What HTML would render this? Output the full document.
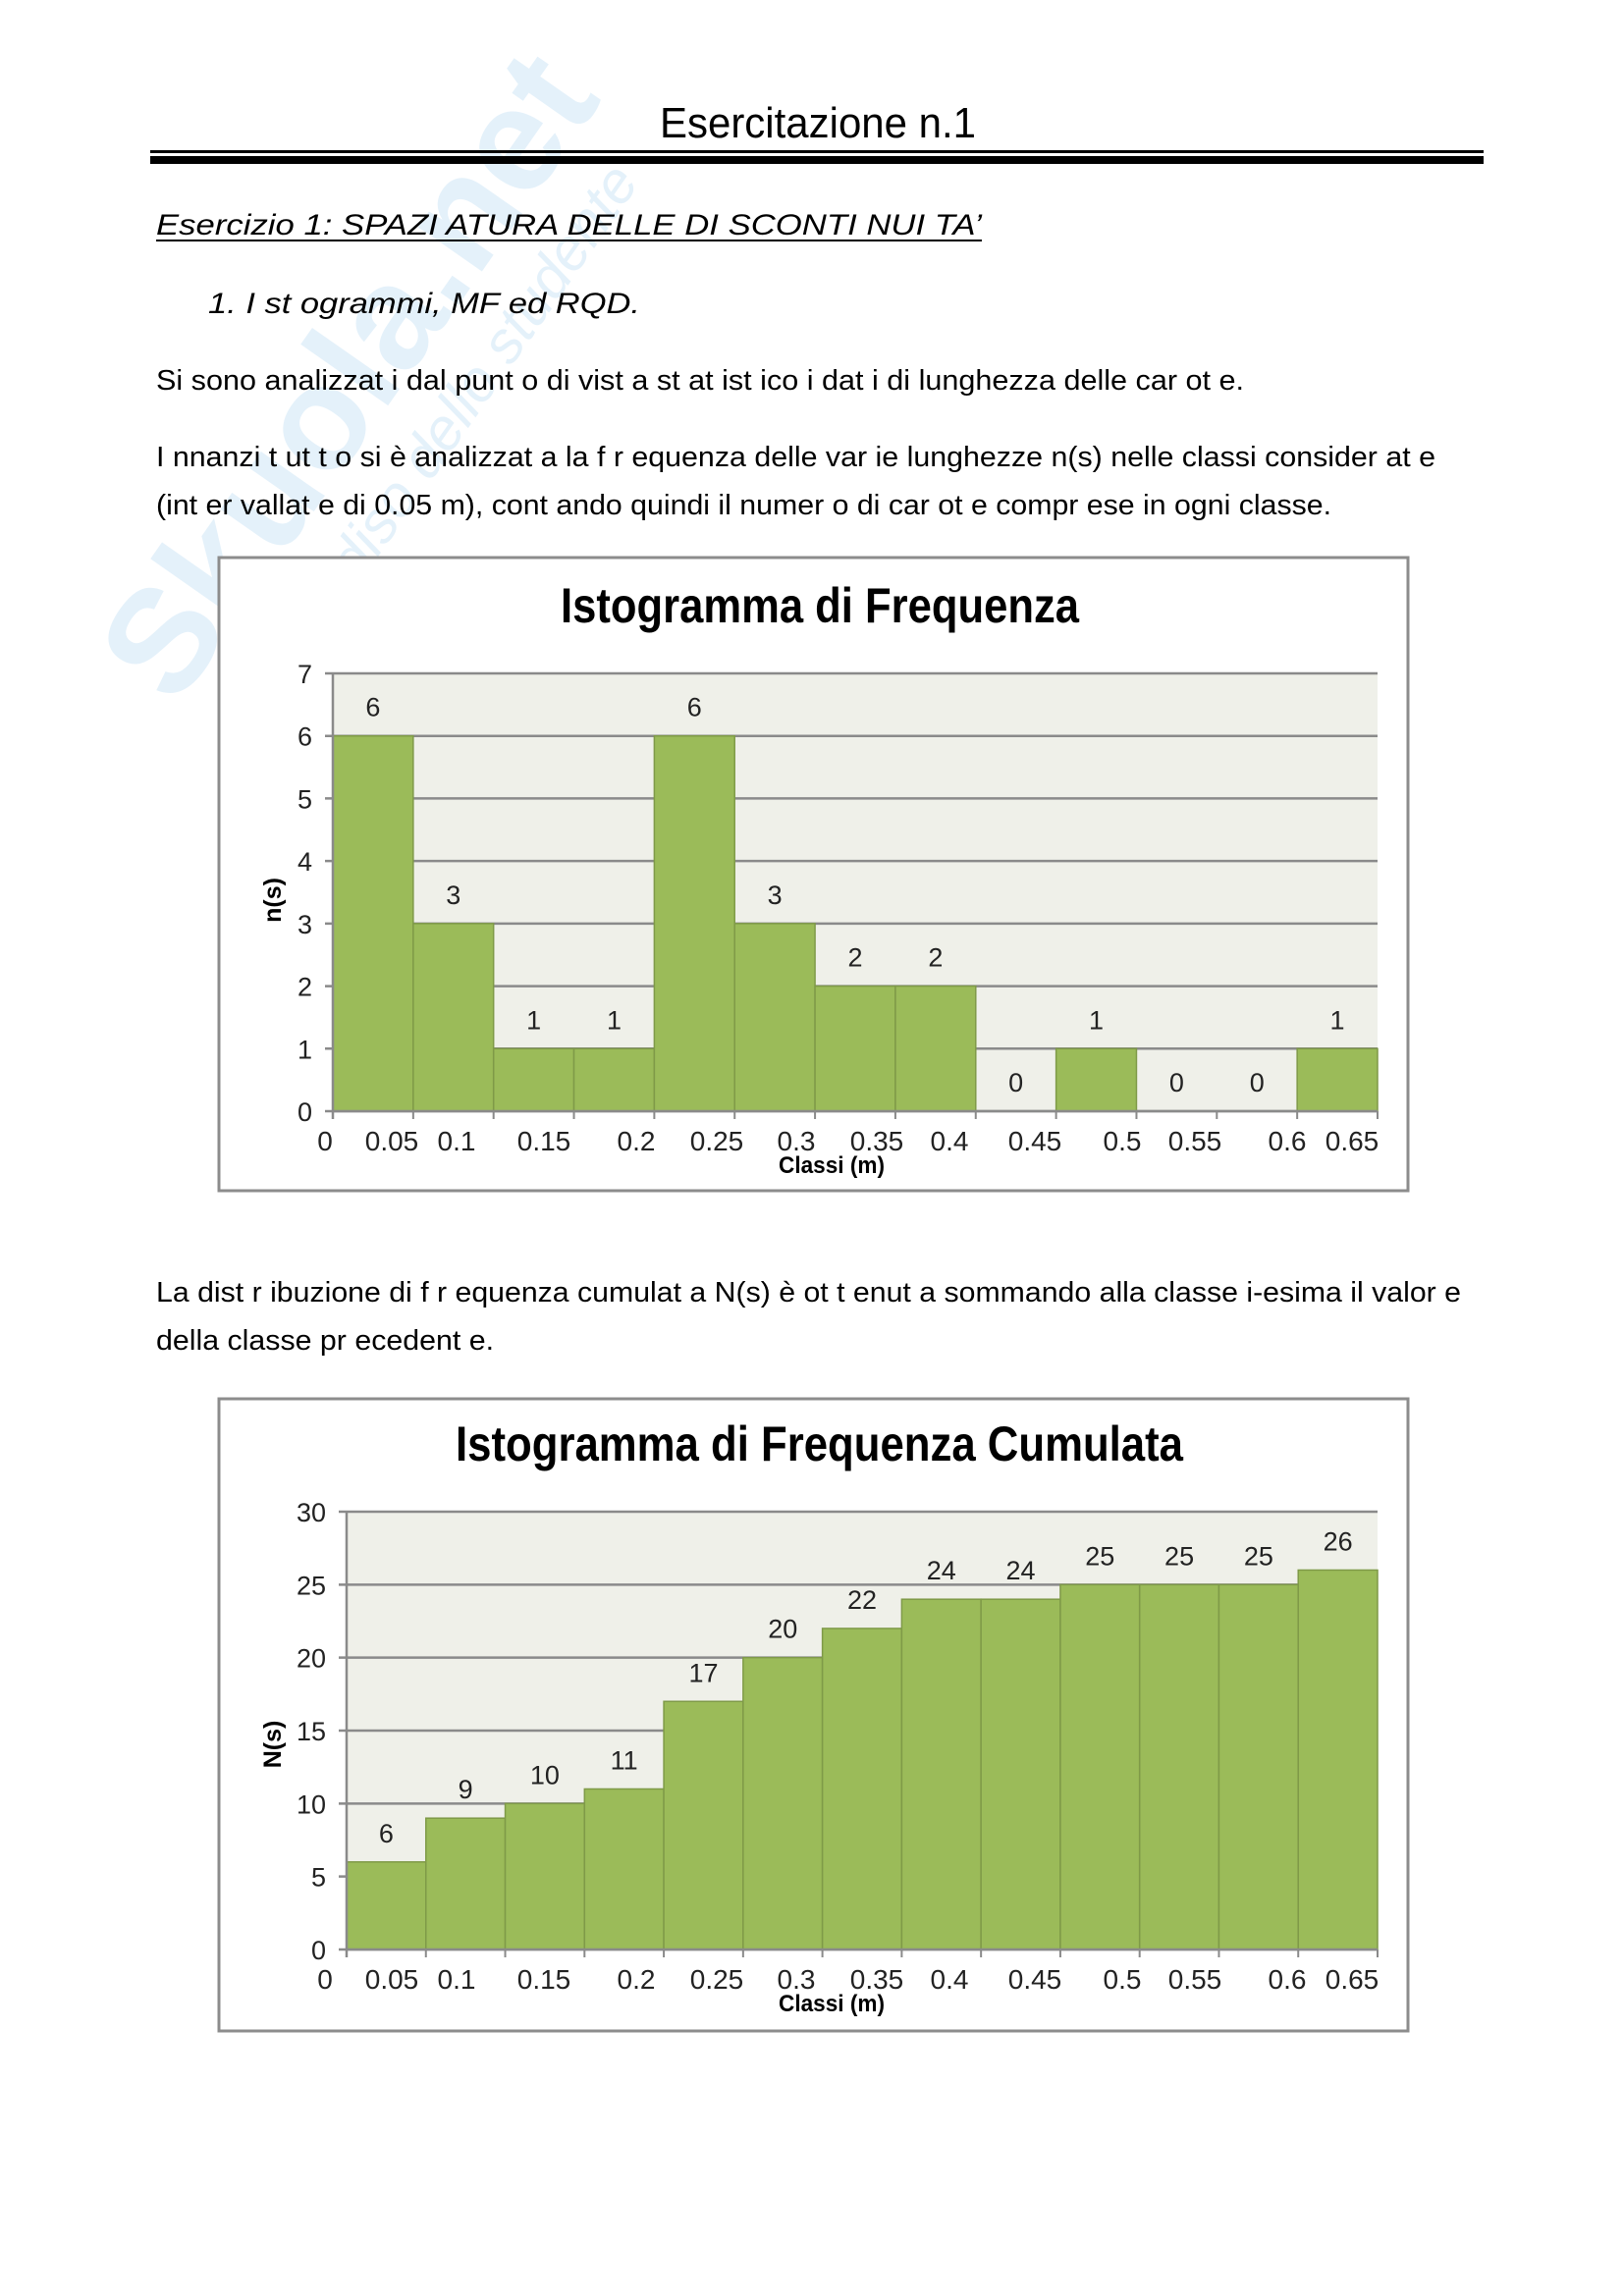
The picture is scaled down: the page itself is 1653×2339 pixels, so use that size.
<!DOCTYPE html>
<html><head><meta charset="utf-8">
<style>
html,body{margin:0;padding:0;background:#fff;}
svg{display:block;}
text{font-family:"Liberation Sans",Arial,sans-serif;}
</style></head>
<body>
<svg id="s" width="1653" height="2339" viewBox="0 0 1653 2339" xmlns="http://www.w3.org/2000/svg">
<rect width="1653" height="2339" fill="#fff"/>
<g opacity="0.12" transform="rotate(-55 380 400)">
<text x="380" y="420" font-size="150" font-weight="bold" fill="#2a8fd8" text-anchor="middle">Skuola.net</text>
<text x="380" y="500" font-size="60" font-style="italic" fill="#2a8fd8" text-anchor="middle">il paradiso dello studente</text>
</g>
<text x="672" y="140" font-size="44" textLength="322" lengthAdjust="spacingAndGlyphs" fill="#000">Esercitazione n.1</text>
<rect x="153" y="153" width="1358" height="3" fill="#000"/>
<rect x="153" y="159" width="1358" height="8" fill="#000"/>
<text x="159" y="239" font-size="30" font-style="italic" textLength="841" lengthAdjust="spacingAndGlyphs">Esercizio 1: SPAZI ATURA DELLE DI SCONTI NUI TA’</text>
<rect x="159" y="244" width="841" height="2" fill="#000"/>
<text x="212" y="319" font-size="30" font-style="italic" textLength="440" lengthAdjust="spacingAndGlyphs">1.   I st ogrammi, MF ed RQD.</text>
<text x="159" y="397" font-size="29" textLength="1108" lengthAdjust="spacingAndGlyphs">Si sono analizzat i dal punt o di vist a st at ist ico i dat i di lunghezza delle car ot e.</text>
<text x="159" y="475" font-size="29" textLength="1303" lengthAdjust="spacingAndGlyphs">I nnanzi t ut t o si è analizzat a la f r equenza delle var ie lunghezze n(s) nelle classi consider at e</text>
<text x="159" y="524" font-size="29" textLength="1197" lengthAdjust="spacingAndGlyphs">(int er vallat e di 0.05 m), cont ando quindi il numer o di car ot e compr ese in ogni classe.</text>
<text x="159" y="1326" font-size="29" textLength="1329" lengthAdjust="spacingAndGlyphs">La dist r ibuzione di f r equenza cumulat a N(s) è ot t enut a sommando alla classe i-esima il valor e</text>
<text x="159" y="1375" font-size="29" textLength="344" lengthAdjust="spacingAndGlyphs">della classe pr ecedent e.</text>
<g id="c1"></g><g id="c2"></g>
</svg>
<script>
var NS="http://www.w3.org/2000/svg";
function el(p,t,a,txt){var e=document.createElementNS(NS,t);for(var k in a)e.setAttribute(k,a[k]);if(txt!==undefined)e.textContent=txt;p.appendChild(e);return e;}
var xl=["0","0.05","0.1","0.15","0.2","0.25","0.3","0.35","0.4","0.45","0.5","0.55","0.6","0.65"];
var xp=[331,399,465,554,648,730,811,893,967,1054,1143,1217,1311,1377];
function chart(g,o){
 el(g,"rect",{x:o.bx,y:o.by,width:o.bw,height:o.bh,fill:"#fff",stroke:"#8c8c8c","stroke-width":3});
 el(g,"text",{x:o.tx,y:o.ty,"font-size":50,"font-weight":"bold",textLength:o.tw,lengthAdjust:"spacingAndGlyphs"},o.title);
 var L=o.L,R=o.R,T=o.T,B=o.B;
 el(g,"rect",{x:L,y:T,width:R-L,height:B-T,fill:"#eff0e9"});
 for(var v=0;v<=o.max;v+=o.step){var y=B-(B-T)*v/o.max;
  el(g,"line",{x1:L-8,x2:R,y1:y,y2:y,stroke:"#8a8a8a","stroke-width":2.5});
  el(g,"text",{x:o.ylx,y:y+10,"font-size":27,"text-anchor":"end",fill:"#222"},String(v));}
 var w=(R-L)/13;
 o.vals.forEach(function(v,i){var x=L+i*w,h=(B-T)*v/o.max;
  if(v>0)el(g,"rect",{x:x,y:B-h,width:w,height:h,fill:"#9bbb59",stroke:"#7f9a48","stroke-width":1.5});
  el(g,"text",{x:x+w/2,y:B-h-o.lo,"font-size":27,"text-anchor":"middle",fill:"#222"},String(v));});
 el(g,"line",{x1:L,x2:L,y1:T,y2:B+8,stroke:"#8a8a8a","stroke-width":2.5});
 for(var i=0;i<=13;i++){var x=L+i*w;el(g,"line",{x1:x,x2:x,y1:B,y2:B+8,stroke:"#8a8a8a","stroke-width":2});}
 el(g,"line",{x1:L,x2:R,y1:B,y2:B,stroke:"#8a8a8a","stroke-width":2.5});
 xl.forEach(function(t,i){el(g,"text",{x:xp[i],y:o.xly,"font-size":28,"text-anchor":"middle",fill:"#222"},t);});
 el(g,"text",{x:847,y:o.cy,"font-size":24,"font-weight":"bold","text-anchor":"middle",textLength:108,lengthAdjust:"spacingAndGlyphs"},"Classi (m)");
 el(g,"text",{x:0,y:0,"font-size":25,"font-weight":"bold","text-anchor":"middle",transform:"translate("+o.nx+","+o.ny+") rotate(-90)"},o.ylab);
}
chart(document.getElementById("c1"),{bx:223,by:568,bw:1211,bh:645,tx:571,ty:634,tw:528,title:"Istogramma di Frequenza",
 L:339,R:1403,T:686,B:1132,max:7,step:1,ylx:318,vals:[6,3,1,1,6,3,2,2,0,1,0,0,1],lo:20,xly:1172,cy:1195,nx:286,ny:917,ylab:"n(s)"});
chart(document.getElementById("c2"),{bx:223,by:1425,bw:1211,bh:644,tx:464,ty:1488,tw:741,title:"Istogramma di Frequenza Cumulata",
 L:353,R:1403,T:1540,B:1986,max:30,step:5,ylx:332,vals:[6,9,10,11,17,20,22,24,24,25,25,25,26],lo:20,xly:2026,cy:2049,nx:286,ny:1777,ylab:"N(s)"});
</script>
</body></html>
